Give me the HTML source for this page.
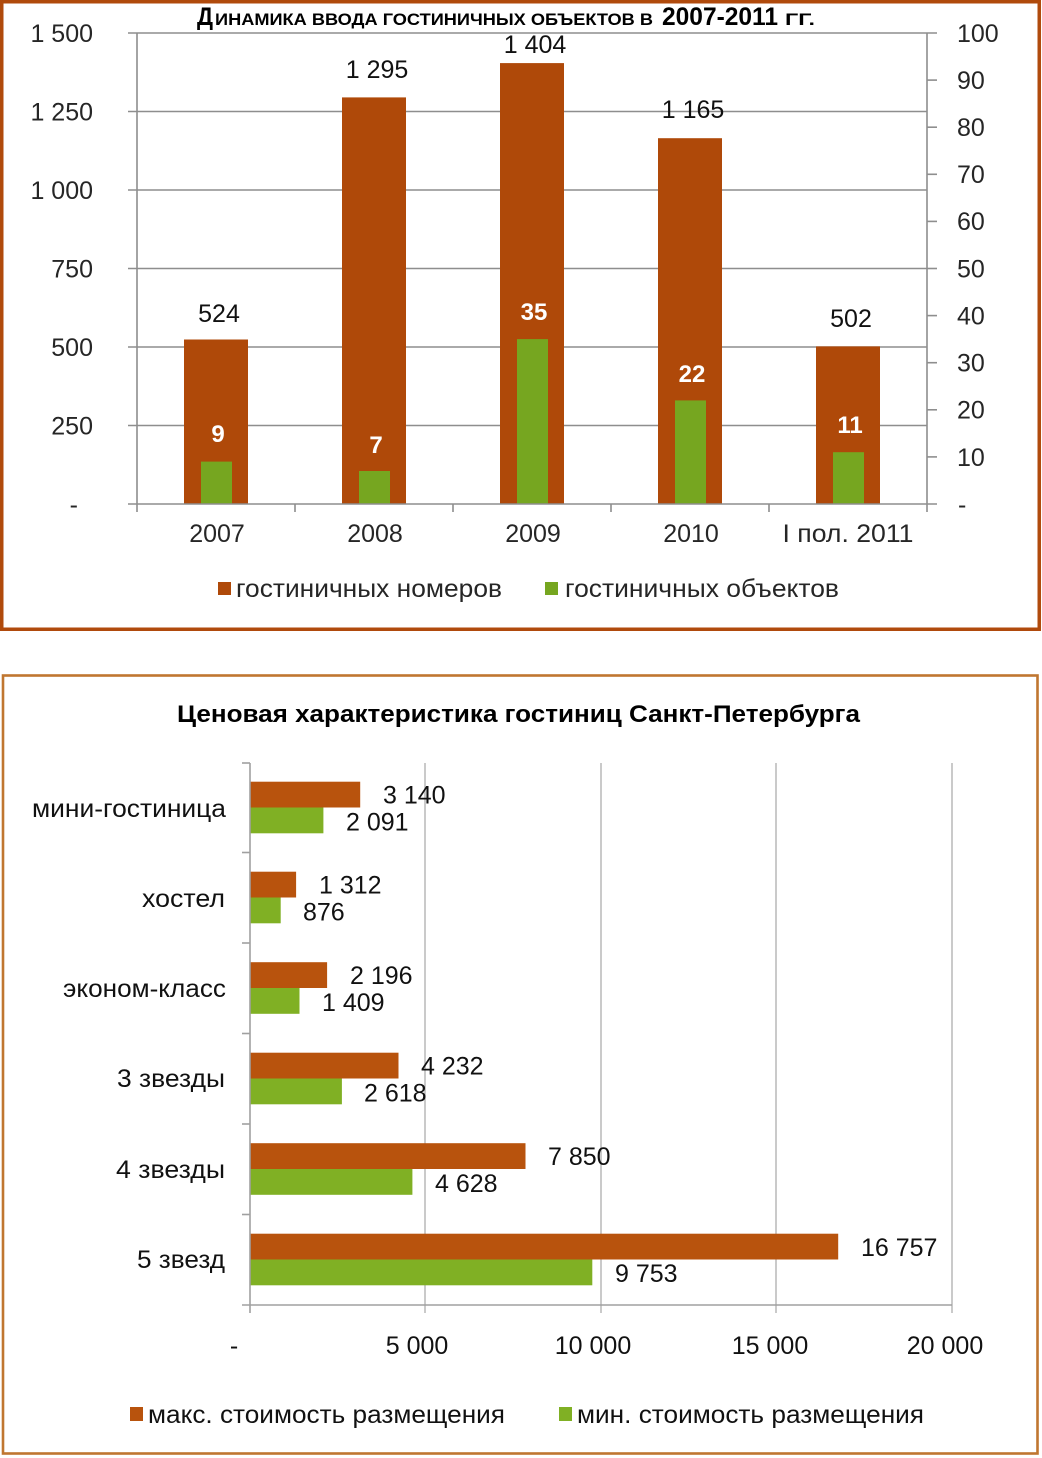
<!DOCTYPE html>
<html>
<head>
<meta charset="utf-8">
<style>
html,body{margin:0;padding:0;background:#fff;}
svg{display:block;}
text{font-family:"Liberation Sans","Noto Sans CJK SC",Arial,sans-serif;}
</style>
</head>
<body>
<svg width="1042" height="1458" viewBox="0 0 1042 1458" xmlns="http://www.w3.org/2000/svg">
<rect x="0" y="0" width="1042" height="1458" fill="#fff"/>

<!-- ================= TOP CHART ================= -->
<rect x="1.75" y="1.75" width="1037.5" height="627.5" fill="#fff" stroke="#B04A0C" stroke-width="3.5"/>

<!-- title -->
<g font-weight="bold" fill="#000">
<text x="197" y="25" font-size="25" textLength="16" lengthAdjust="spacingAndGlyphs">Д</text>
<text x="215" y="25" font-size="17" textLength="438" lengthAdjust="spacingAndGlyphs">ИНАМИКА ВВОДА ГОСТИНИЧНЫХ ОБЪЕКТОВ В</text>
<text x="662" y="25" font-size="25" textLength="116" lengthAdjust="spacingAndGlyphs">2007-2011</text>
<text x="785" y="25" font-size="17" textLength="30" lengthAdjust="spacingAndGlyphs">ГГ.</text>
</g>

<!-- gridlines -->
<g stroke="#8e8e8e" stroke-width="1.6">
<line x1="128" y1="33" x2="937" y2="33"/>
<line x1="128" y1="111.5" x2="927" y2="111.5"/>
<line x1="128" y1="190" x2="927" y2="190"/>
<line x1="128" y1="268.5" x2="927" y2="268.5"/>
<line x1="128" y1="347" x2="927" y2="347"/>
<line x1="128" y1="425.5" x2="927" y2="425.5"/>
</g>

<!-- orange bars -->
<g fill="#AF4909">
<rect x="184" y="339.5" width="64" height="164.5"/>
<rect x="342" y="97.4" width="64" height="406.6"/>
<rect x="500" y="63.1" width="64" height="440.9"/>
<rect x="658" y="138.2" width="64" height="365.8"/>
<rect x="816" y="346.4" width="64" height="157.6"/>
</g>
<!-- green bars -->
<g fill="#76A620">
<rect x="201" y="461.6" width="31" height="42.4"/>
<rect x="359" y="471" width="31" height="33"/>
<rect x="517" y="339.1" width="31" height="164.9"/>
<rect x="675" y="400.4" width="31" height="103.6"/>
<rect x="833" y="452.2" width="31" height="51.8"/>
</g>

<!-- axes -->
<g stroke="#8e8e8e" stroke-width="1.6" fill="none">
<line x1="137" y1="33" x2="137" y2="512"/>
<line x1="927" y1="33" x2="927" y2="512"/>
<line x1="128" y1="504" x2="937" y2="504"/>
<line x1="295" y1="504" x2="295" y2="512"/>
<line x1="453" y1="504" x2="453" y2="512"/>
<line x1="611" y1="504" x2="611" y2="512"/>
<line x1="769" y1="504" x2="769" y2="512"/>
<!-- right ticks -->
<line x1="927" y1="80.1" x2="937" y2="80.1"/>
<line x1="927" y1="127.2" x2="937" y2="127.2"/>
<line x1="927" y1="174.3" x2="937" y2="174.3"/>
<line x1="927" y1="221.4" x2="937" y2="221.4"/>
<line x1="927" y1="268.5" x2="937" y2="268.5"/>
<line x1="927" y1="315.6" x2="937" y2="315.6"/>
<line x1="927" y1="362.7" x2="937" y2="362.7"/>
<line x1="927" y1="409.8" x2="937" y2="409.8"/>
<line x1="927" y1="456.9" x2="937" y2="456.9"/>
</g>

<!-- left axis labels -->
<g font-size="25" fill="#262626" text-anchor="end">
<text x="93" y="42">1 500</text>
<text x="93" y="120.5">1 250</text>
<text x="93" y="199">1 000</text>
<text x="93" y="277.5">750</text>
<text x="93" y="356">500</text>
<text x="93" y="434.5">250</text>
<text x="78" y="513">-</text>
</g>
<!-- right axis labels -->
<g font-size="25" fill="#262626">
<text x="957" y="42">100</text>
<text x="957" y="89">90</text>
<text x="957" y="136">80</text>
<text x="957" y="183">70</text>
<text x="957" y="230">60</text>
<text x="957" y="277.5">50</text>
<text x="957" y="324.5">40</text>
<text x="957" y="371.5">30</text>
<text x="957" y="418.5">20</text>
<text x="957" y="466">10</text>
<text x="958" y="513">-</text>
</g>

<!-- category labels -->
<g font-size="25" fill="#262626" text-anchor="middle">
<text x="217" y="542">2007</text>
<text x="375" y="542">2008</text>
<text x="533" y="542">2009</text>
<text x="691" y="542">2010</text>
<text x="848" y="542" textLength="131" lengthAdjust="spacingAndGlyphs">I пол. 2011</text>
</g>

<!-- value labels (orange) -->
<g font-size="25" fill="#111" text-anchor="middle">
<text x="219" y="322">524</text>
<text x="377" y="78">1 295</text>
<text x="535" y="53">1 404</text>
<text x="693" y="118">1 165</text>
<text x="851" y="327">502</text>
</g>
<!-- value labels (green, white bold) -->
<g font-size="24" font-weight="bold" fill="#fff" text-anchor="middle">
<text x="218" y="442">9</text>
<text x="376" y="453">7</text>
<text x="534" y="320">35</text>
<text x="692" y="382">22</text>
<text x="850" y="433">11</text>
</g>

<!-- legend -->
<rect x="218" y="582" width="13" height="13" fill="#AF4909"/>
<text x="236" y="597" font-size="25" fill="#262626" textLength="266" lengthAdjust="spacingAndGlyphs">гостиничных номеров</text>
<rect x="545" y="582" width="13" height="13" fill="#76A620"/>
<text x="565" y="597" font-size="25" fill="#262626" textLength="274" lengthAdjust="spacingAndGlyphs">гостиничных объектов</text>

<!-- ================= BOTTOM CHART ================= -->
<rect x="3" y="675.5" width="1034.5" height="778" fill="#fff" stroke="#C07630" stroke-width="2.6"/>

<text x="177" y="722" font-size="24" font-weight="bold" fill="#000" textLength="683" lengthAdjust="spacingAndGlyphs">Ценовая характеристика гостиниц Санкт-Петербурга</text>

<!-- gridlines -->
<g stroke="#b8b8b8" stroke-width="1.5">
<line x1="425" y1="763" x2="425" y2="1313"/>
<line x1="601" y1="763" x2="601" y2="1313"/>
<line x1="776" y1="763" x2="776" y2="1313"/>
<line x1="952" y1="763" x2="952" y2="1313"/>
</g>

<!-- bars -->
<g fill="#B8530D">
<rect x="250" y="781.7" width="110.2" height="25.8"/>
<rect x="250" y="871.7" width="46.1" height="25.8"/>
<rect x="250" y="962.2" width="77.1" height="25.8"/>
<rect x="250" y="1052.7" width="148.5" height="25.8"/>
<rect x="250" y="1143.2" width="275.5" height="25.8"/>
<rect x="250" y="1233.7" width="588.2" height="25.8"/>
</g>
<g fill="#80B024">
<rect x="250" y="807.5" width="73.4" height="25.8"/>
<rect x="250" y="897.5" width="30.7" height="25.8"/>
<rect x="250" y="988" width="49.5" height="25.8"/>
<rect x="250" y="1078.5" width="91.9" height="25.8"/>
<rect x="250" y="1169" width="162.4" height="25.8"/>
<rect x="250" y="1259.5" width="342.3" height="25.8"/>
</g>

<!-- axes -->
<g stroke="#a0a0a0" stroke-width="1.6">
<line x1="250" y1="763" x2="250" y2="1313"/>
<line x1="242" y1="1305" x2="952" y2="1305"/>
<line x1="242" y1="763" x2="250" y2="763"/>
<line x1="242" y1="852.5" x2="250" y2="852.5"/>
<line x1="242" y1="943" x2="250" y2="943"/>
<line x1="242" y1="1033.5" x2="250" y2="1033.5"/>
<line x1="242" y1="1124" x2="250" y2="1124"/>
<line x1="242" y1="1214.5" x2="250" y2="1214.5"/>
</g>

<!-- category labels -->
<g font-size="25" fill="#111" text-anchor="end">
<text x="226" y="817" textLength="194" lengthAdjust="spacingAndGlyphs">мини-гостиница</text>
<text x="225" y="907" textLength="83" lengthAdjust="spacingAndGlyphs">хостел</text>
<text x="226" y="997" textLength="163" lengthAdjust="spacingAndGlyphs">эконом-класс</text>
<text x="225" y="1087" textLength="108" lengthAdjust="spacingAndGlyphs">3 звезды</text>
<text x="225" y="1178" textLength="109" lengthAdjust="spacingAndGlyphs">4 звезды</text>
<text x="225" y="1268" textLength="88" lengthAdjust="spacingAndGlyphs">5 звезд</text>
</g>

<!-- value labels -->
<g font-size="25" fill="#111">
<text x="383" y="803.5">3 140</text>
<text x="346" y="830.5">2 091</text>
<text x="319" y="893.5">1 312</text>
<text x="303" y="920.5">876</text>
<text x="350" y="984">2 196</text>
<text x="322" y="1011">1 409</text>
<text x="421" y="1074.5">4 232</text>
<text x="364" y="1101.5">2 618</text>
<text x="548" y="1165">7 850</text>
<text x="435" y="1192">4 628</text>
<text x="861" y="1256">16 757</text>
<text x="615" y="1282">9 753</text>
</g>

<!-- x axis labels -->
<g font-size="25" fill="#111" text-anchor="middle">
<text x="234" y="1354">-</text>
<text x="417" y="1354">5 000</text>
<text x="593" y="1354">10 000</text>
<text x="770" y="1354">15 000</text>
<text x="945" y="1354">20 000</text>
</g>

<!-- legend -->
<rect x="130" y="1407" width="13" height="14" fill="#B8530D"/>
<text x="148" y="1423" font-size="25" fill="#111" textLength="357" lengthAdjust="spacingAndGlyphs">макс. стоимость размещения</text>
<rect x="559" y="1407" width="13" height="14" fill="#80B024"/>
<text x="577" y="1423" font-size="25" fill="#111" textLength="347" lengthAdjust="spacingAndGlyphs">мин. стоимость размещения</text>
</svg>
</body>
</html>
